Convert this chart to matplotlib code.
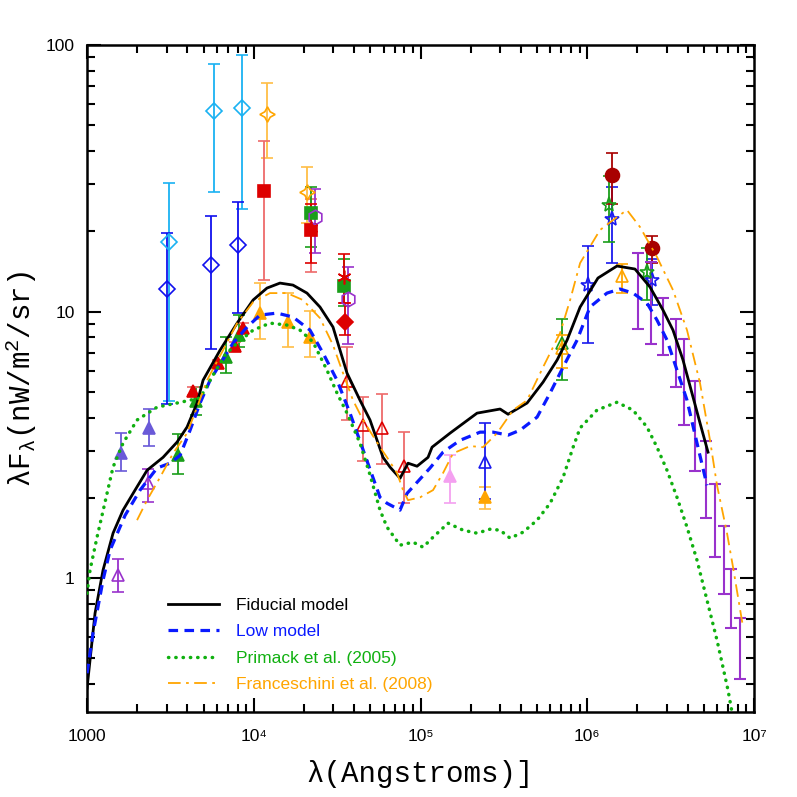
import matplotlib.pyplot as plt
import numpy as np

# model curves: log10(lambda / Angstrom) and lambda*F_lambda in nW/m^2/sr
fid_logl = [3.000, 3.048, 3.096, 3.156, 3.216, 3.288, 3.360, 3.456, 3.540, 3.600, 3.660, 3.696,
            3.798, 3.900, 3.996, 4.079, 4.157, 4.235, 4.319, 4.397, 4.475, 4.559, 4.637, 4.697,
            4.775, 4.817, 4.877, 4.925, 4.979, 5.045, 5.069, 5.177, 5.339, 5.477, 5.525, 5.639,
            5.735, 5.819, 5.879, 5.957, 6.064, 6.178, 6.286, 6.376, 6.454, 6.514, 6.574, 6.634,
            6.676, 6.724]
fid_f = [0.387, 0.739, 1.072, 1.475, 1.80, 2.14, 2.54, 2.84, 3.24, 3.69, 4.54, 5.53,
         7.17, 9.05, 11.05, 12.25, 12.79, 12.57, 11.73, 10.40, 8.75, 5.88, 4.65, 3.92,
         2.84, 2.61, 2.37, 2.70, 2.63, 2.84, 3.10, 3.50, 4.16, 4.31, 4.12, 4.54,
         5.44, 6.58, 7.82, 10.40, 13.36, 14.82, 14.44, 12.36, 10.13, 8.52, 6.58, 4.78,
         3.82, 2.97]

low_logl = [3.000, 3.036, 3.096, 3.138, 3.228, 3.318, 3.420, 3.498, 3.558, 3.618, 3.678, 3.738,
            3.876, 3.960, 4.037, 4.139, 4.235, 4.337, 4.415, 4.499, 4.577, 4.757, 4.799, 4.877,
            4.919, 5.057, 5.135, 5.237, 5.357, 5.435, 5.525, 5.597, 5.699, 5.777, 5.855, 5.939,
            6.016, 6.118, 6.196, 6.274, 6.358, 6.418, 6.478, 6.538, 6.598, 6.658, 6.718]
low_f = [0.440, 0.622, 0.983, 1.274, 1.72, 2.14, 2.59, 2.70, 2.89, 3.59, 4.54, 5.53,
         7.62, 8.75, 9.70, 9.87, 9.54, 8.52, 6.99, 5.53, 4.16, 2.01, 1.91, 1.80,
         2.08, 2.59, 2.97, 3.29, 3.53, 3.53, 3.44, 3.59, 4.02, 4.95, 6.19, 7.82,
         10.40, 11.73, 12.15, 11.73, 10.76, 9.29, 7.82, 6.03, 4.65, 3.21, 2.23]

pri_logl = [3.000, 3.018, 3.060, 3.120, 3.156, 3.216, 3.300, 3.420, 3.540, 3.678, 3.756, 3.828,
            3.900, 3.996, 4.097, 4.199, 4.277, 4.355, 4.439, 4.499, 4.559, 4.637, 4.697, 4.757,
            4.799, 4.877, 4.955, 5.015, 5.075, 5.165, 5.255, 5.339, 5.417, 5.477, 5.537, 5.615,
            5.699, 5.777, 5.855, 5.915, 5.957, 6.058, 6.178, 6.274, 6.358, 6.418, 6.478, 6.538,
            6.598, 6.658, 6.718, 6.778, 6.814, 6.844, 6.868, 6.89]
pri_f = [0.878, 1.072, 1.425, 2.08, 2.61, 3.21, 3.92, 4.38, 4.54, 4.74, 5.78, 6.87,
         7.62, 8.52, 9.05, 8.90, 8.52, 7.69, 6.03, 4.95, 4.16, 3.21, 2.44, 1.80,
         1.554, 1.330, 1.365, 1.307, 1.425, 1.608, 1.514, 1.475, 1.527, 1.514, 1.413, 1.488,
         1.651, 1.91, 2.39, 3.10, 3.66, 4.27, 4.57, 4.27, 3.69, 3.10, 2.54, 2.01,
         1.554, 1.168, 0.827, 0.585, 0.463, 0.380, 0.314, 0.26]

fra_logl = [3.300, 3.360, 3.438, 3.516, 3.600, 3.660, 3.720, 3.816, 3.900, 3.996, 4.097, 4.199,
            4.295, 4.397, 4.475, 4.535, 4.595, 4.655, 4.757, 4.799, 4.859, 4.895, 4.925, 4.997,
            5.075, 5.135, 5.195, 5.297, 5.375, 5.459, 5.555, 5.639, 5.735, 5.837, 5.897, 5.957,
            6.076, 6.178, 6.238, 6.316, 6.418, 6.514, 6.598, 6.676, 6.736, 6.778, 6.838, 6.874,
            6.934]
fra_f = [1.651, 1.962, 2.39, 2.94, 3.50, 4.38, 5.53, 7.17, 9.05, 10.85, 11.73, 11.73,
         11.05, 9.45, 7.49, 5.88, 4.65, 3.92, 3.10, 2.84, 2.48, 2.14, 1.962, 2.01,
         2.14, 2.48, 2.94, 3.13, 3.10, 3.50, 4.27, 4.65, 6.19, 8.31, 11.05, 15.21,
         20.22, 22.62, 24.04, 20.76, 16.02, 12.04, 8.52, 5.39, 3.29, 2.23, 1.475, 1.10,
         0.655]

# measurements: log10(lambda), value, upper end, lower end
uvo_logl = [3.184, 3.364]
uvo_f = [1.03, 2.27]
uvo_hi = [1.178, 2.565]
uvo_lo = [0.886, 1.93]

uvs_logl = [3.202, 3.372]
uvs_f = [2.94, 3.66]
uvs_hi = [3.50, 4.31]
uvs_lo = [2.52, 3.13]

optg_logl = [3.548, 3.654, 3.834, 3.913]
optg_f = [2.89, 4.63, 6.75, 8.16]
optg_hi = [3.47, 5.22, 8.04, 9.70]
optg_lo = [2.455, 4.09, 5.88, 7.38]

optr_logl = [3.634, 3.784, 3.888, 3.934]
optr_f = [5.04, 6.41, 7.42, 8.67]
optr_hi = [5.22, 6.58, 7.70, 9.08]
optr_lo = [4.86, 6.14, 7.17, 8.33]

dblu_logl = [3.478, 3.742, 3.904]
dblu_f = [12.12, 14.95, 17.77]
dblu_hi = [19.76, 22.8, 25.8]
dblu_lo = [4.50, 7.23, 9.87]

dsky_logl = [3.494, 3.763, 3.931]
dsky_f = [18.18, 56.5, 57.9]
dsky_hi = [30.3, 84.6, 91.5]
dsky_lo = [4.6, 28.1, 24.3]

oran_logl = [4.039, 4.205, 4.337, 5.387]
oran_f = [9.90, 9.13, 8.04, 2.02]
oran_hi = [12.76, 11.70, 10.05, 2.20]
oran_lo = [7.86, 7.38, 6.77, 1.81]

ostar_logl = [4.081, 4.318]
ostar_f = [55.0, 28.15]
ostar_hi = [72.2, 34.9]
ostar_lo = [37.7, 21.4]

rsq_logl = [4.060, 4.342]
rsq_f = [28.4, 20.2]
rsq_hi = [43.6, 26.4]
rsq_lo = [13.13, 14.07]

gsq_logl = [4.342, 4.543]
gsq_f = [23.4, 12.5]
gsq_hi = [29.4, 15.7]
gsq_lo = [17.4, 10.5]

hexa_logl = [4.367, 4.567]
hexa_f = [22.7, 11.1]
hexa_hi = [28.7, 14.65]
hexa_lo = [16.6, 7.55]

rast_logl = [4.342, 4.543]
rast_f = [20.5, 13.5]
rast_hi = [25.3, 16.4]
rast_lo = [15.17, 10.8]

rdia_logl = [4.547]
rdia_f = [9.11]
rdia_hi = [10.8]
rdia_lo = [8.16]

mir_logl = [4.557, 4.657, 4.767, 4.903]
mir_f = [5.48, 3.75, 3.66, 2.64]
mir_hi = [7.38, 4.78, 4.89, 3.54]
mir_lo = [3.92, 2.76, 2.67, 1.92]

pink_logl = [5.177]
pink_f = [2.42]
pink_hi = [2.89]
pink_lo = [1.91]

bop_logl = [5.387]
bop_f = [2.73]
bop_hi = [3.81]
bop_lo = [1.99]

gop_logl = [5.847]
gop_f = [7.60]
gop_hi = [9.35]
gop_lo = [5.53]

oop_logl = [5.847, 6.210]
oop_f = [7.28, 13.6]
oop_hi = [8.16, 15.07]
oop_lo = [6.12, 11.76]

bstar_logl = [6.006, 6.150, 6.390]
bstar_f = [12.57, 22.2, 13.13]
bstar_hi = [17.66, 29.4, 15.8]
bstar_lo = [7.60, 15.2, 10.58]

gstar_logl = [6.130, 6.360]
gstar_f = [25.2, 14.1]
gstar_hi = [32.3, 17.26]
gstar_lo = [18.2, 11.05]

circ_logl = [6.151, 6.387]
circ_f = [32.5, 17.26]
circ_hi = [39.4, 19.2]
circ_lo = [25.3, 15.2]

fir_logl = [6.306, 6.381, 6.456, 6.529, 6.581, 6.643, 6.712, 6.766, 6.822, 6.860, 6.916]
fir_hi = [16.6, 15.3, 11.26, 9.41, 7.86, 5.50, 3.27, 2.25, 1.567, 1.087, 0.710]
fir_lo = [8.60, 7.55, 6.85, 5.22, 3.74, 2.53, 1.684, 1.202, 0.871, 0.648, 0.420]

plt.rcParams['mathtext.fontset'] = 'custom'
plt.rcParams['mathtext.rm'] = 'Liberation Mono'
plt.rcParams['mathtext.it'] = 'Liberation Mono'

fig = plt.figure(figsize=(7.97, 7.97), dpi=100)
ax = fig.add_axes([0.1092, 0.1067, 0.8369, 0.8369])
ax.set_xscale('log')
ax.set_yscale('log')


def pts(logl, f, hi, lo, marker, color, ecolor=None, fill=True, ms=9):
    x = 10 ** np.array(logl)
    f = np.array(f)
    yerr = [f - np.array(lo), np.array(hi) - f]
    ax.errorbar(x, f, yerr=yerr, fmt='', ls='none', marker=marker, color=color,
                ecolor=ecolor or color, mfc=color if fill else 'none', mec=color, ms=ms,
                mew=1.2, capsize=4.5, elinewidth=1.3, capthick=1.3, zorder=2)


red = '#dd0000'
lred = '#ee6a6a'
green = '#1a9e1a'
orange = '#ffa500'
lorange = '#ffbe45'
purple = '#9932cc'

pts(uvo_logl, uvo_f, uvo_hi, uvo_lo, '^', purple, fill=False)
pts(uvs_logl, uvs_f, uvs_hi, uvs_lo, '^', '#6a5ad8')
pts(dsky_logl, dsky_f, dsky_hi, dsky_lo, 'D', '#1ab2f2', fill=False, ms=8.5)
pts(dblu_logl, dblu_f, dblu_hi, dblu_lo, 'D', '#1010ee', fill=False, ms=8.5)
pts(optg_logl, optg_f, optg_hi, optg_lo, '^', green)
pts(optr_logl, optr_f, optr_hi, optr_lo, '^', red, ecolor=lred)
pts(ostar_logl, ostar_f, ostar_hi, ostar_lo, (4, 1, 0), orange, ecolor=lorange, fill=False, ms=11)
pts(rsq_logl, rsq_f, rsq_hi, rsq_lo, 's', red, ecolor=lred, ms=8)
pts(gsq_logl, gsq_f, gsq_hi, gsq_lo, 's', green, ms=8)
pts(hexa_logl, hexa_f, hexa_hi, hexa_lo, 'h', purple, fill=False, ms=10.5)
pts(rast_logl, rast_f, rast_hi, rast_lo, (6, 2, 0), red, ms=10)
pts(rdia_logl, rdia_f, rdia_hi, rdia_lo, 'D', red, ms=8)
pts(oran_logl, oran_f, oran_hi, oran_lo, '^', orange, ecolor=lorange)
pts(mir_logl, mir_f, mir_hi, mir_lo, '^', red, ecolor=lred, fill=False)
pts(pink_logl, pink_f, pink_hi, pink_lo, '^', '#f4a0f0')
pts(bop_logl, bop_f, bop_hi, bop_lo, '^', '#1a1aee', fill=False)
pts(gop_logl, gop_f, gop_hi, gop_lo, '^', green, fill=False)
pts(oop_logl, oop_f, oop_hi, oop_lo, '^', orange, fill=False)
pts(bstar_logl, bstar_f, bstar_hi, bstar_lo, '*', '#1a1aee', fill=False, ms=11)
pts(gstar_logl, gstar_f, gstar_hi, gstar_lo, '*', green, fill=False, ms=11)
pts(circ_logl, circ_f, circ_hi, circ_lo, 'o', '#a80000', ms=10)

fir_x = 10 ** np.array(fir_logl)
fir_mid = np.sqrt(np.array(fir_hi) * np.array(fir_lo))
ax.errorbar(fir_x, fir_mid, yerr=[fir_mid - np.array(fir_lo), np.array(fir_hi) - fir_mid],
            fmt='none', ecolor=purple, capsize=4.5, elinewidth=1.5, capthick=1.5, zorder=2)

ax.plot(10 ** np.array(fid_logl), fid_f, color='black', lw=2.0, zorder=3, label='Fiducial model')
ax.plot(10 ** np.array(low_logl), low_f, color='#0a1aff', lw=2.3, ls=(0, (3, 2)), zorder=3,
        label='Low model')
ax.plot(10 ** np.array(pri_logl), pri_f, color='#10b010', lw=2.5, ls=(0, (0.1, 2.0)),
        dash_capstyle='round', zorder=3, label='Primack et al. (2005)')
ax.plot(10 ** np.array(fra_logl), fra_f, color=orange, lw=1.3, ls=(0, (7, 3, 1.5, 3)), zorder=3,
        label='Franceschini et al. (2008)')

ax.set_xlim(1000, 1e7)
ax.set_ylim(0.315, 100)

tfont = ['Liberation Sans Narrow', 'Liberation Sans', 'DejaVu Sans']
ax.set_xticks([1e3, 1e4, 1e5, 1e6, 1e7])
ax.set_xticklabels(['1000', '10⁴', '10⁵', '10⁶', '10⁷'], family=tfont, fontsize=12.5)
ax.set_yticks([1, 10, 100])
ax.set_yticklabels(['1', '10', '100'], family=tfont, fontsize=12.5)
ax.tick_params(which='both', direction='in', top=True, right=True, width=1.5)
ax.tick_params(which='major', length=10, pad=9)
ax.tick_params(which='minor', length=6)
ax.tick_params(axis='x', which='major', pad=12)
for s in ax.spines.values():
    s.set_linewidth(1.8)

ax.set_xlabel('λ(Angstroms)]', family='Liberation Mono', fontsize=21, labelpad=12)
ax.set_ylabel('λF$_\\mathrm{λ}$(nW/m$^\\mathrm{2}$/sr)', family='Liberation Mono', fontsize=21,
              labelpad=5)

leg = ax.legend(loc='upper left', bbox_to_anchor=(0.122, 0.171), frameon=False,
                handlelength=2.9, handletextpad=1.0, labelspacing=0.64, borderpad=0,
                borderaxespad=0, labelcolor='linecolor', prop={'family': 'Liberation Sans', 'size': 12.5})

fig.savefig('out.png', dpi=100)
